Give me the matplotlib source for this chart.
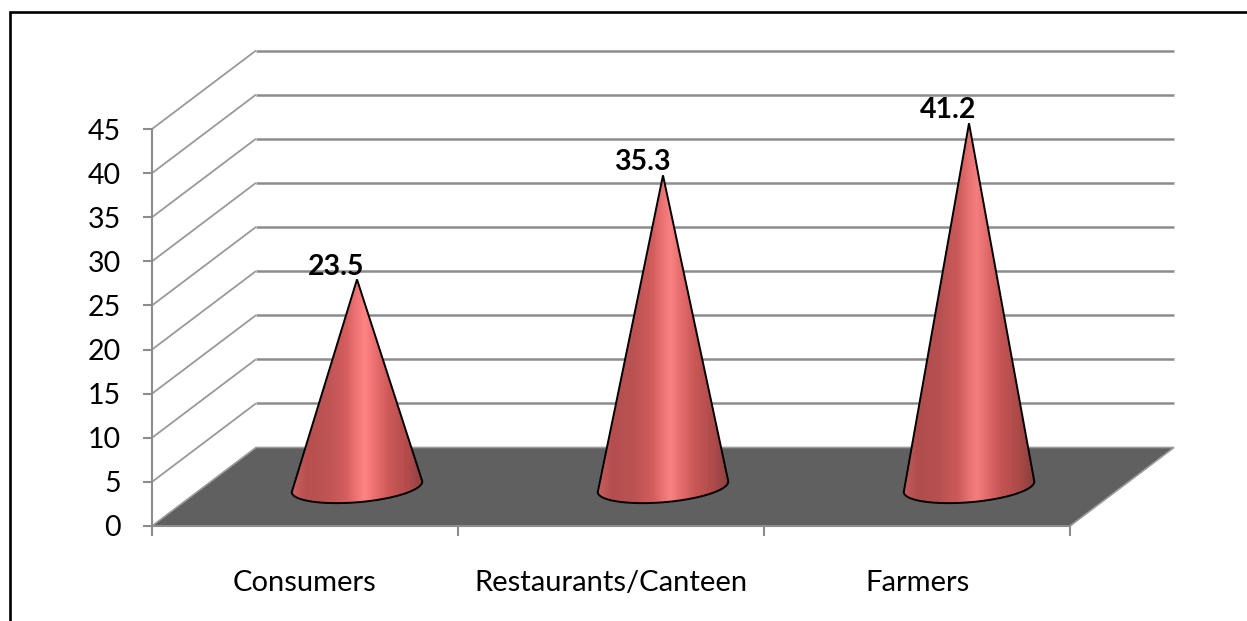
import numpy as np
import matplotlib
matplotlib.use("Agg")
import matplotlib.pyplot as plt
from matplotlib.patches import Polygon
from matplotlib.colors import LinearSegmentedColormap
from matplotlib.lines import Line2D

categories = ["Consumers", "Restaurants/Canteen", "Farmers"]
values = [23.5, 35.3, 41.2]
y_ticks = [0, 5, 10, 15, 20, 25, 30, 35, 40, 45]

W, H = 1247, 621
plt.rcParams['font.family'] = ['Lato', 'DejaVu Sans']
fig = plt.figure(figsize=(W / 100, H / 100), dpi=100)
L, R, T, B = 152, 1070, 129, 526
ax = fig.add_axes([L / W, 1 - B / H, (R - L) / W, (B - T) / H])
ax.set_xlim(0, 3)
ax.set_ylim(0, 45)
ax.patch.set_alpha(0)

px_x = (R - L) / 3      # pixels per category
px_y = (B - T) / 45     # pixels per value unit
depth_x = 104 / px_x
depth_y = 78.5 / px_y
GRID = '#8c8c8c'

# walls / gridlines
for v in y_ticks[1:]:
    ax.plot([0, depth_x], [v, v + depth_y], color='#999999', lw=1.3,
            clip_on=False, zorder=1, solid_capstyle='butt')
    ax.plot([depth_x, 3 + depth_x], [v + depth_y, v + depth_y],
            color=GRID, lw=1.8, clip_on=False, zorder=1, solid_capstyle='butt')
# floor
ax.add_patch(Polygon([(0, 0), (depth_x, depth_y), (3 + depth_x, depth_y), (3, 0)],
                     closed=True, fc='#606060', ec='#9a9a9a', lw=1.2,
                     clip_on=False, zorder=2))

# cones
stops = [(0.00, (205, 98, 98)), (0.12, (184, 80, 80)), (0.28, (190, 84, 84)),
         (0.42, (214, 94, 94)), (0.50, (240, 118, 118)), (0.56, (255, 132, 132)),
         (0.63, (236, 112, 112)), (0.74, (205, 88, 88)), (0.88, (178, 76, 76)),
         (1.00, (140, 64, 64))]
shade = [1.0, 0.98, 0.96]
half_w = 65.5
semi_b = 15.5
tilt = np.deg2rad(4.8)
for i, val in enumerate(values):
    cmap = LinearSegmentedColormap.from_list(
        f'cone{i}', [(p, tuple(c * shade[i] / 255 for c in rgb)) for p, rgb in stops])
    cx = i + 0.5 + depth_x / 2
    cy = depth_y / 2
    t = np.linspace(np.pi, 2 * np.pi, 60)
    ex = half_w * np.cos(t)
    ey = semi_b * np.sin(t)
    dx = (ex * np.cos(tilt) - ey * np.sin(tilt)) / px_x
    dy = (ex * np.sin(tilt) + ey * np.cos(tilt)) / px_y
    xs = np.r_[cx, cx + dx]
    ys = np.r_[val + cy, cy + dy]
    verts = np.c_[xs, ys]
    poly = Polygon(verts, closed=True, fc='none', ec='black', lw=1.4,
                   clip_on=False, zorder=5, joinstyle='miter')
    ax.add_patch(poly)
    x0, x1 = cx - half_w / px_x * 1.02, cx + half_w / px_x * 1.02
    y0, y1 = ys.min(), ys.max()
    im = ax.imshow(np.linspace(0, 1, 256)[None, :], cmap=cmap, vmin=0, vmax=1,
                   extent=[x0, x1, y0, y1], aspect='auto', zorder=4,
                   interpolation='bilinear')
    im.set_clip_path(poly)
    ax.annotate(f"{val}", xy=(cx, val + cy), xytext=(-15, 3.5),
                textcoords='offset points', ha='center', va='baseline',
                fontsize=20.5, fontweight='bold', color='black', zorder=6,
                annotation_clip=False)

ax.set_xlim(0, 3)
ax.set_ylim(0, 45)

# axes
for s in ('top', 'right'):
    ax.spines[s].set_visible(False)
for s in ('left', 'bottom'):
    ax.spines[s].set_color(GRID)
    ax.spines[s].set_linewidth(1.5)
    ax.spines[s].set_zorder(3)
ax.set_yticks(y_ticks)
ax.set_xticks(range(4))
ax.set_xticklabels([])
ax.set_xticks([0.5, 1.5, 2.5], minor=True)
ax.set_xticklabels(categories, minor=True)
ax.tick_params(axis='y', length=6.5, width=1.5, color=GRID, pad=16, labelsize=20.5, labelcolor='black')
ax.tick_params(axis='x', which='major', length=7, width=1.5, color=GRID)
ax.tick_params(axis='x', which='minor', length=0, pad=31.5, labelsize=21, labelcolor='black')

# outer frame (left and top only)
fig.add_artist(Line2D([9.5 / W, 9.5 / W, 1], [0, 1 - 11.5 / H, 1 - 11.5 / H],
                      color='black', lw=1.9, transform=fig.transFigure,
                      solid_joinstyle='miter'))

fig.savefig('out.png', dpi=100)
